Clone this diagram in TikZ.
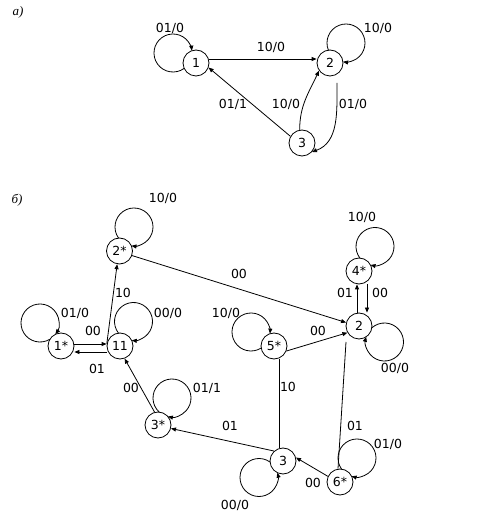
\documentclass[tikz,border=0pt]{standalone}
\usepackage{fontspec}
\setmainfont{DejaVu Sans}
\newfontfamily\lserif{Liberation Serif}
\usetikzlibrary{arrows.meta,calc}
\begin{document}
\begin{tikzpicture}[x=1pt,y=1pt,
  st/.style={circle,draw,line width=0.8pt,minimum size=26pt,inner sep=0pt,font=\fontsize{12.5}{14}\selectfont},
  lb/.style={inner sep=0pt,font=\fontsize{12.5}{14}\selectfont},
  part/.style={inner sep=0pt,font=\lserif\itshape\fontsize{13}{15}\selectfont},
  tr/.style={line width=0.8pt,-{Triangle[length=5pt,width=4pt]}},
  ln/.style={line width=0.8pt},
]
\fill[white] (0,0) rectangle (489,528);
\useasboundingbox (0,0) rectangle (489,528);

% ---------- part a ----------
\node[part] (pa) at (18,516) {а)};
\node[st] (a1) at (196,465) {1};
\node[st] (a2) at (330,465) {2};
\node[st] (a3) at (302,385) {3};

\coordinate (la1) at ($(a1)+(-23,10)$);
\coordinate (la2) at ($(a2)+(16,20)$);
\draw[tr] (la1) ++(-54:19) arc[start angle=-54,end angle=-353,radius=19];
\draw[tr] (la2) ++(202:19) arc[start angle=202,end angle=-99,radius=19];

\draw[tr] ([yshift=4pt]a1.east) -- ([yshift=4pt]a2.west);
\draw[tr] (a3.150) -- (a1.-20);
\draw[tr] (a3.100) to[out=90,in=245] (a2.215);
\coordinate (a2s) at ($(a2)+(7,-20)$);
\draw[tr] (a2s) to[out=-90,in=20] (a3.-42);

\node[lb] (ta1) at (170,500) {01/0};
\node[lb] (ta2) at (378,500) {10/0};
\node[lb] (ta3) at (271,481) {10/0};
\node[lb] (ta4) at (233,424) {01/1};
\node[lb] (ta5) at (286,424) {10/0};
\node[lb] (ta6) at (353,424) {01/0};

% ---------- part b ----------
\node[part] (pb) at (17,328) {б)};
\node[st] (b2s) at (119.5,277) {2*};
\node[st] (b1s) at (61,182) {1*};
\node[st] (b11) at (120,182) {11};
\node[st] (b3s) at (158,103) {3*};
\node[st] (b3) at (283,67) {3};
\node[st] (b6s) at (340,46) {6*};
\node[st] (b5s) at (274,182) {5*};
\node[st] (b2) at (359,202) {2};
\node[st] (b4s) at (359,257) {4*};

% loops
\coordinate (l2s) at ($(b2s)+(14.5,24)$);
\coordinate (l1s) at ($(b1s)+(-21,23)$);
\coordinate (l11) at ($(b11)+(13.5,24.5)$);
\coordinate (l4s) at ($(b4s)+(16,24.5)$);
\coordinate (l5s) at ($(b5s)+(-23,14)$);
\coordinate (l2) at ($(b2)+(25.5,-16)$);
\coordinate (l3) at ($(b3)+(-24,-16.5)$);
\coordinate (l3s) at ($(b3s)+(14,27)$);
\coordinate (l6s) at ($(b6s)+(17,24)$);
\draw[tr] (l2s) ++(215.5:19) arc[start angle=215.5,end angle=-97.7,radius=19];
\draw[tr] (l1s) ++(-59:19) arc[start angle=-59,end angle=-396,radius=19];
\draw[tr] (l11) ++(217.5:19) arc[start angle=217.5,end angle=-95.3,radius=19];
\draw[tr] (l4s) ++(217.4:19) arc[start angle=217.4,end angle=-103.6,radius=19];
\draw[tr] (l5s) ++(-57.7:19) arc[start angle=-57.7,end angle=-364.9,radius=19];
\draw[tr] (l2) ++(131.6:19) arc[start angle=131.6,end angle=-195.8,radius=19];
\draw[tr] (l3) ++(54.5:19) arc[start angle=54.5,end angle=374.5,radius=19];
\draw[tr] (l3s) ++(227.6:19) arc[start angle=227.6,end angle=-102.4,radius=19];
\draw[tr] (l6s) ++(215.7:19) arc[start angle=215.7,end angle=-106.3,radius=19];

% edges
\draw[tr] ([yshift=2pt]b1s.east) -- ([yshift=2pt]b11.west);
\draw[tr] ([yshift=-6pt]b11.west) -- ([yshift=-6pt]b1s.east);
\draw[tr] (b11.170) -- (b2s.260);
\draw[tr] (b2s.-20) -- (b2.165);
\draw[tr] (b5s.-22) -- (b2.210);
\draw[tr] ([xshift=-2pt]b2.north) -- ([xshift=-2pt]b4s.south);
\draw[tr] ([xshift=8pt]b4s.south) -- ([xshift=8pt]b2.north);
\draw[ln] ([xshift=5pt]b5s.south) -- ([xshift=-4pt]b3.north);
\coordinate (e62) at ($(b2)+(-13,-16)$);
\draw[ln] ([xshift=-2pt]b6s.north) -- (e62);
\draw[tr] (b6s.155) -- (b3.15);
\draw[tr] (b3.132) -- (b3s.-15);
\draw[tr] (b3s.105) -- (b11.-70);

% labels
\node[lb] (tb1) at (163,330) {10/0};
\node[lb] (tb2) at (75,215) {01/0};
\node[lb] (tb3) at (168,215) {00/0};
\node[lb] (tb4) at (362,311) {10/0};
\node[lb] (tb5) at (226,215) {10/0};
\node[lb] (tb6) at (395,160) {00/0};
\node[lb] (tb7) at (207,140) {01/1};
\node[lb] (tb8) at (235,23) {00/0};
\node[lb] (tb9) at (388,84) {01/0};
\node[lb] (tb10) at (93,197) {00};
\node[lb] (tb11) at (97,159) {01};
\node[lb] (tb12) at (123,235) {10};
\node[lb] (tb13) at (239,254) {00};
\node[lb] (tb14) at (318,197) {00};
\node[lb] (tb15) at (345,235) {01};
\node[lb] (tb16) at (380,235) {00};
\node[lb] (tb17) at (288,141) {10};
\node[lb] (tb18) at (355,102) {01};
\node[lb] (tb19) at (313,45) {00};
\node[lb] (tb20) at (230,102) {01};
\node[lb] (tb21) at (131,140) {00};
\end{tikzpicture}
\end{document}
